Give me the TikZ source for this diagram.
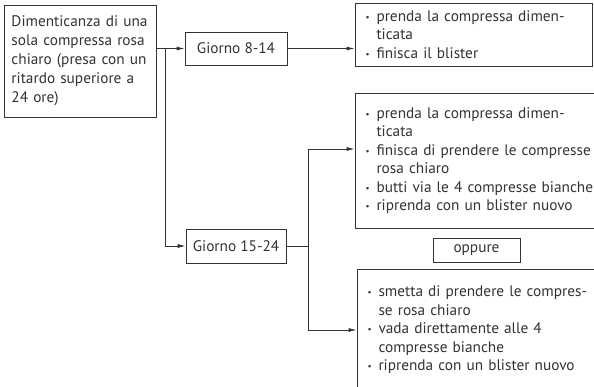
\documentclass[tikz,border=0pt]{standalone}
\usepackage{fontspec}
\setmainfont{PT Sans}
\usetikzlibrary{arrows.meta}
\definecolor{ink}{HTML}{333333}
\newcommand{\itemdot}{\makebox[11pt][l]{\raisebox{1pt}{\small\textbullet}}}
\newcommand{\itemgap}{\hspace*{11pt}}

\begin{document}
\begin{tikzpicture}
[x=1pt, y=-1pt, every node/.style={inner sep=0pt, font=\fontsize{15.3}{18.5}\selectfont, text=ink},
 box/.style={draw=ink, line width=0.8pt, rectangle, align=left},
 link/.style={draw=ink, line width=0.8pt},
 tip/.style={-{Latex[length=8pt,width=4pt]}}]
\useasboundingbox (0,0) rectangle (594,387);
\node (start) [box, minimum width=152pt, minimum height=112pt, text width=137pt, font=\fontsize{15.3}{19}\selectfont] at (80,61) {Dimenticanza di una\\sola compressa rosa\\chiaro (presa con un\\ritardo superiore a\\24 ore)};
\node (days1) [box, minimum width=102pt, minimum height=33pt] at (236,48.5) {Giorno 8-14};
\node (days2) [box, minimum width=100pt, minimum height=34pt] at (236,246) {Giorno 15-24};
\node (todo1) [box, minimum width=237pt, minimum height=63pt, text width=216pt] at (473.5,34.5) {\itemdot prenda la compressa dimen-\\\itemgap ticata\\\itemdot finisca il blister};
\node (todo2) [box, minimum width=250pt, minimum height=135pt, text width=229pt] at (480,160.5) {\itemdot prenda la compressa dimen-\\\itemgap ticata\\\itemdot finisca di prendere le compresse\\\itemgap rosa chiaro\\\itemdot butti via le 4 compresse bianche\\\itemdot riprenda con un blister nuovo};
\node (or) [box, minimum width=87pt, minimum height=24pt] at (476.5,250) {oppure};
\node (todo3) [box, minimum width=248pt, minimum height=122pt, text width=227pt] at (481,330) {\itemdot smetta di prendere le compres-\\\itemgap se rosa chiaro\\\itemdot vada direttamente alle 4\\\itemgap compresse bianche\\\itemdot riprenda con un blister nuovo};
\coordinate (fork1) at (165,48.5);
\coordinate (fork2) at (308,246);
\draw [link] (start.east |- fork1) to (fork1);
\draw [link, tip] (fork1) to (days1.west);
\draw [link, tip] (fork1) |- (days2.west);
\draw [link, tip] (days1.east) to (days1.east -| todo1.west);
\draw [link] (days2.east) to (fork2);
\draw [link, tip] (fork2) |- ([yshift=11.5pt]todo2.west);
\draw [link, tip] (fork2) |- (todo3.west);
\end{tikzpicture}
\end{document}
